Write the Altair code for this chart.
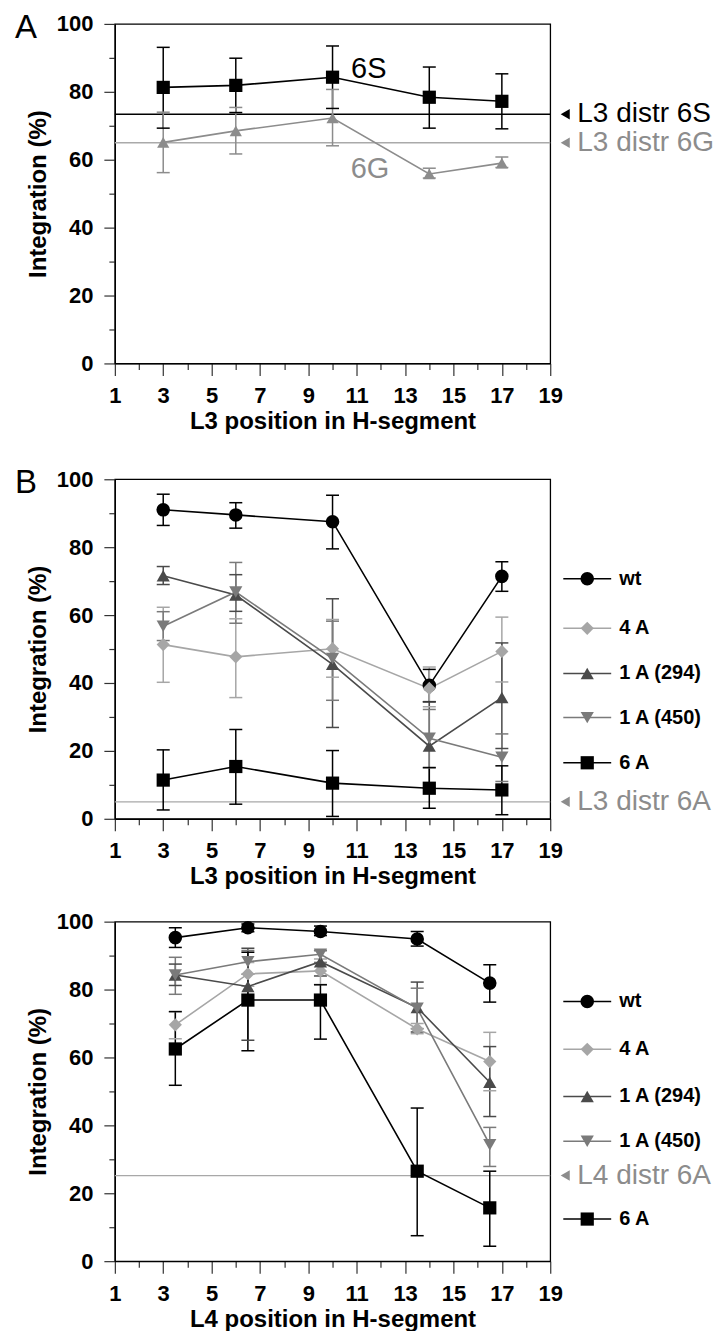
import altair as alt
import pandas as pd

FONT = "Liberation Sans, Arial, Helvetica, sans-serif"

# ---------------- Panel A data ----------------
a_x = [3, 6, 10, 14, 17]
a_names = ["6S", "6G"]
a_vals = [[81.3, 81.9, 84.3, 78.4, 77.2], [65.1, 68.5, 72.3, 55.8, 59.0]]
a_lo = [[69.3, 73.9, 75.1, 69.3, 69.1], [56.2, 61.7, 64.1, 54.6, 57.7]]
a_hi = [[93.1, 89.9, 93.5, 87.3, 85.3], [74.0, 75.4, 80.7, 57.5, 60.8]]
a_ref_vals = [73.4, 65.0]
a_ref_labels = ["L3 distr 6S", "L3 distr 6G"]
a_note_text = ["6S", "6G"]
a_note_x = [11.5, 11.55]
a_note_y = [86.8, 57.4]

# ---------------- Panel B data ----------------
b_x = [3, 6, 10, 14, 17]
bc_names = ["wt", "4 A", "1 A (294)", "1 A (450)", "6 A"]
b_vals = [
    [91.0, 89.5, 87.5, 39.3, 71.4],
    [51.3, 47.7, 50.1, 38.4, 49.3],
    [71.6, 65.9, 45.5, 21.4, 35.7],
    [56.7, 66.8, 47.2, 23.7, 18.1],
    [11.4, 15.4, 10.5, 9.0, 8.5],
]
b_lo = [
    [86.4, 85.6, 79.5, 34.5, 67.0],
    [40.2, 35.7, 41.7, 33.0, 40.3],
    [69.0, 61.1, 26.9, 9.0, 20.7],
    [52.5, 57.6, 34.9, 15.0, 11.0],
    [2.6, 4.3, 0.7, 3.1, 1.2],
]
b_hi = [
    [95.6, 93.1, 95.3, 44.0, 75.7],
    [62.3, 58.9, 58.7, 44.7, 59.4],
    [74.3, 71.9, 64.8, 34.4, 51.8],
    [61.0, 75.5, 58.2, 32.2, 25.0],
    [20.3, 26.3, 20.1, 15.1, 15.6],
]
b_ref_vals = [5.0]
b_ref_labels = ["L3 distr 6A"]
b_legend_y = [70.7, 56.1, 42.8, 29.8, 16.5]

# ---------------- Panel C data ----------------
c_x = [3.5, 6.5, 9.5, 13.5, 16.5]
c_vals = [
    [95.3, 98.2, 97.1, 94.9, 81.9],
    [69.6, 84.6, 85.5, 68.4, 58.8],
    [84.3, 80.9, 88.2, 74.7, 52.7],
    [84.3, 88.2, 90.4, 74.5, 34.3],
    [62.5, 76.9, 76.9, 26.5, 15.7],
]
c_lo = [
    [92.4, 97.0, 95.9, 92.8, 76.3],
    [65.5, 81.0, 81.5, 67.0, 50.2],
    [81.2, 65.1, 84.0, 67.5, 42.6],
    [78.6, 84.5, 88.0, 68.5, 27.9],
    [51.8, 62.0, 65.4, 7.5, 4.4],
]
c_hi = [
    [98.2, 99.3, 98.7, 97.1, 87.3],
    [73.5, 88.0, 89.0, 70.0, 67.4],
    [87.5, 92.2, 91.5, 82.2, 63.2],
    [89.5, 91.5, 91.5, 80.4, 39.4],
    [73.5, 91.0, 81.4, 45.1, 26.5],
]
c_ref_vals = [25.2]
c_ref_labels = ["L4 distr 6A"]
c_legend_y = [76.5, 62.4, 48.5, 35.3, 12.4]

# ---------------- styles ----------------
STYLE = {  # color, shape, symbol size
    "6S": ("#000000", "square", 175),
    "6G": ("#8c8c8c", "triangle-up", 150),
    "wt": ("#000000", "circle", 185),
    "4 A": ("#a6a6a6", "diamond", 175),
    "1 A (294)": ("#4a4a4a", "triangle-up", 175),
    "1 A (450)": ("#7a7a7a", "triangle-down", 175),
    "6 A": ("#000000", "square", 175),
}
REF_STYLE = {
    "L3 distr 6S": ("#000000", "#000000"),
    "L3 distr 6G": ("#aaaaaa", "#8c8c8c"),
    "L3 distr 6A": ("#a8a8a8", "#8c8c8c"),
    "L4 distr 6A": ("#a8a8a8", "#8c8c8c"),
}
NOTE_COLORS = {"6S": "#000000", "6G": "#8c8c8c"}

W, H = 436, 340
LEG_X0, LEG_X1, LEG_XM, LEG_XT = 19.54, 21.52, 20.53, 21.85
REF_TRI_X, REF_TXT_X = 19.62, 20.12


def X(field, title):
    return alt.X(
        f"{field}:Q",
        scale=alt.Scale(domain=[1, 19], nice=False, zero=False),
        axis=alt.Axis(
            values=list(range(1, 20)),
            labelExpr="datum.value % 2 === 1 ? datum.label : ''",
            tickSize={"condition": {"test": "datum.value % 2 === 1", "value": 12}, "value": 6},
            title=title, grid=False, labelOverlap=False, labelFlush=False,
            labelFontSize=22, labelFontWeight="bold", labelPadding=10,
            titleFontSize=24, titleFontWeight="bold", titlePadding=3,
        ),
    )


def Y(field):
    return alt.Y(
        f"{field}:Q",
        scale=alt.Scale(domain=[0, 100], nice=False, zero=True),
        axis=alt.Axis(
            values=list(range(0, 101, 10)),
            labelExpr="datum.value % 20 === 0 ? datum.label : ''",
            tickSize={"condition": {"test": "datum.value % 20 === 0", "value": 11}, "value": 6},
            title="Integration (%)", grid=False, labelOverlap=False, labelFlush=False,
            labelFontSize=22, labelFontWeight="bold", labelPadding=11,
            titleFontSize=24, titleFontWeight="bold", titlePadding=6,
        ),
    )


def series_frame(x, names, vals, los, his):
    rows = []
    for name, v, lo, hi in zip(names, vals, los, his):
        col, shp, sz = STYLE[name]
        for xi, a, b, c in zip(x, v, lo, hi):
            rows.append(dict(series=name, x=xi, y=a, lo=b, hi=c, col=col, shp=shp, sz=sz))
    return pd.DataFrame(rows)


COLOR = alt.Color("col:N", scale=None)
SHAPE = alt.Shape("shp:N", scale=None)
SIZE = alt.Size("sz:Q", scale=None)


def panel(df, names, xtitle, ref_vals, ref_labels, legend_y=None, notes=None, letter=None):
    ref = pd.DataFrame({
        "v": ref_vals, "label": ref_labels,
        "rc": [REF_STYLE[l][0] for l in ref_labels],
        "tc": [REF_STYLE[l][1] for l in ref_labels],
        "tx": [REF_TRI_X] * len(ref_vals), "lx": [REF_TXT_X] * len(ref_vals),
    })
    layers = [
        alt.Chart(ref).mark_rule(strokeWidth=1.3).encode(y=Y("v"), color=alt.Color("rc:N", scale=None)),
        alt.Chart(ref).mark_point(shape="triangle-left", filled=True, size=110, opacity=1).encode(
            x=X("tx", xtitle), y=Y("v"), color=alt.Color("tc:N", scale=None)),
        alt.Chart(ref).mark_text(align="left", baseline="middle", fontSize=28, font=FONT).encode(
            x=X("lx", xtitle), y=Y("v"), text="label:N", color=alt.Color("tc:N", scale=None)),
    ]
    base = alt.Chart(df)
    layers += [
        base.mark_rule(strokeWidth=1.5).encode(x=X("x", xtitle), y=Y("lo"), y2="hi", color=COLOR, detail="series:N"),
        base.mark_tick(orient="horizontal", size=13, thickness=1.5, opacity=1).encode(
            x=X("x", xtitle), y=Y("lo"), color=COLOR, detail="series:N"),
        base.mark_tick(orient="horizontal", size=13, thickness=1.5, opacity=1).encode(
            x=X("x", xtitle), y=Y("hi"), color=COLOR, detail="series:N"),
        base.mark_line(strokeWidth=1.6).encode(x=X("x", xtitle), y=Y("y"), color=COLOR, detail="series:N"),
        base.mark_point(filled=True, opacity=1).encode(
            x=X("x", xtitle), y=Y("y"), color=COLOR, shape=SHAPE, size=SIZE, detail="series:N"),
    ]
    if notes is not None:
        nd = pd.DataFrame({"t": notes[0], "nx": notes[1], "ny": notes[2],
                           "nc": [NOTE_COLORS[t] for t in notes[0]]})
        layers.append(alt.Chart(nd).mark_text(fontSize=29, align="center", baseline="middle", font=FONT).encode(
            x=X("nx", xtitle), y=Y("ny"), text="t:N", color=alt.Color("nc:N", scale=None)))
    if legend_y is not None:
        ld = pd.DataFrame({"series": names, "ly": legend_y,
                           "x0": [LEG_X0] * len(names), "x1": [LEG_X1] * len(names),
                           "xm": [LEG_XM] * len(names), "xt": [LEG_XT] * len(names),
                           "col": [STYLE[n][0] for n in names],
                           "shp": [STYLE[n][1] for n in names],
                           "sz": [STYLE[n][2] for n in names]})
        lc = alt.Chart(ld)
        layers += [
            lc.mark_rule(strokeWidth=1.5).encode(x=X("x0", xtitle), x2="x1", y=Y("ly"), color=COLOR),
            lc.mark_point(filled=True, opacity=1).encode(
                x=X("xm", xtitle), y=Y("ly"), color=COLOR, shape=SHAPE, size=SIZE),
            lc.mark_text(align="left", baseline="middle", fontSize=20, fontWeight="bold", color="black", font=FONT).encode(
                x=X("xt", xtitle), y=Y("ly"), text="series:N"),
        ]
    if letter is not None:
        layers.append(alt.Chart(pd.DataFrame({"t": [letter]})).mark_text(
            align="left", baseline="top", fontSize=33, font=FONT, color="black").encode(
            x=alt.value(-100), y=alt.value(-12), text="t:N"))
    return alt.layer(*layers).properties(width=W, height=H)


pA = panel(series_frame(a_x, a_names, a_vals, a_lo, a_hi), a_names, "L3 position in H-segment",
           a_ref_vals, a_ref_labels, notes=(a_note_text, a_note_x, a_note_y), letter="A")
pB = panel(series_frame(b_x, bc_names, b_vals, b_lo, b_hi), bc_names, "L3 position in H-segment",
           b_ref_vals, b_ref_labels, legend_y=b_legend_y, letter="B")
pC = panel(series_frame(c_x, bc_names, c_vals, c_lo, c_hi), bc_names, "L4 position in H-segment",
           c_ref_vals, c_ref_labels, legend_y=c_legend_y)

chart = alt.vconcat(
    pA,
    alt.vconcat(pB, pC, spacing=103, bounds="flush"),
    spacing=116, bounds="flush",
).properties(padding={"left": 6, "top": 2, "right": 0, "bottom": 0}).configure_view(
    stroke="black", strokeWidth=1.3
).configure_axis(
    domainColor="black", domainWidth=1.3, tickColor="#333333", tickWidth=1.2,
    labelColor="black", titleColor="black", labelFont=FONT, titleFont=FONT,
).configure_text(font=FONT)

chart.save("out.html", embed_options={"renderer": "svg", "actions": False})
